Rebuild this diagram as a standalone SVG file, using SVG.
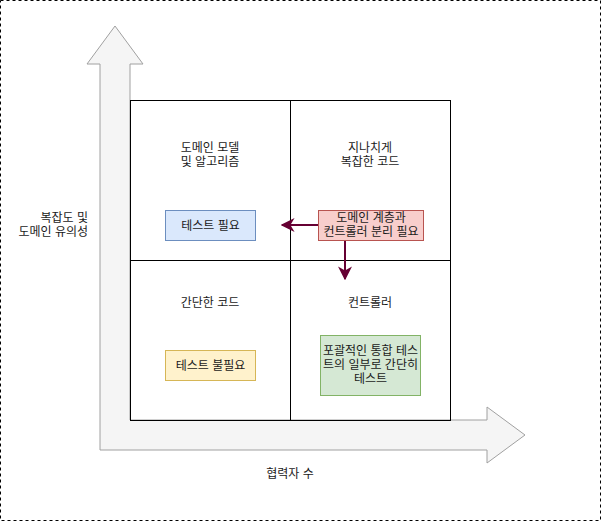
<svg xmlns="http://www.w3.org/2000/svg" width="601" height="521" viewBox="0 0 601 521">
<style>
text{font-family:"Liberation Sans","Noto Sans CJK KR",sans-serif;font-size:12px;fill:#1a1a1a}
.c{text-anchor:middle}
.r{text-anchor:end}
.grid{fill:none;stroke:#000;stroke-width:1}
.con{stroke:#660033;stroke-width:2;fill:none}
</style>
<defs>
<marker id="ah" viewBox="0 0 10 10" refX="9" refY="5" markerWidth="7" markerHeight="7" markerUnits="strokeWidth" orient="auto">
<path d="M0,0 L10,5 L0,10 L3,5 Z" fill="#660033"/>
</marker>
</defs>
<rect x="0.5" y="0.5" width="600" height="520" fill="#fff" stroke="#000" stroke-dasharray="3 3"/>
<g id="axes">
<path d="M100,450 L100,64 L87,64 L115,26 L143,64 L130,64 L130,420 L487,420 L487,407 L525,435 L487,463 L487,450 Z" fill="#f5f5f5" stroke="#a0a0a0" stroke-width="1"/>
</g>
<g id="grid">
<rect class="grid" x="130.5" y="100.5" width="320" height="320"/>
<line class="grid" x1="290.5" y1="100.5" x2="290.5" y2="420.5"/>
<line class="grid" x1="130.5" y1="260.5" x2="450.5" y2="260.5"/>
</g>
<g id="label-y"><text class="r" x="88" y="222">복잡도 및</text><text class="r" x="88" y="236">도메인 유의성</text></g>
<g id="label-x"><text class="c" x="290" y="478">협력자 수</text></g>
<g id="q1"><text class="c" x="210" y="152">도메인 모델</text><text class="c" x="210" y="166">및 알고리즘</text></g>
<g id="q2"><text class="c" x="370" y="152">지나치게</text><text class="c" x="370" y="166">복잡한 코드</text></g>
<g id="q3"><text class="c" x="210" y="307">간단한 코드</text></g>
<g id="q4"><text class="c" x="370" y="307">컨트롤러</text></g>
<g id="connectors">
<line class="con" x1="318" y1="225" x2="282" y2="225" marker-end="url(#ah)"/>
<line class="con" x1="345" y1="240" x2="345" y2="279" marker-end="url(#ah)"/>
</g>
<g id="n-test-needed"><rect x="165.5" y="210.5" width="90" height="30" fill="#dae8fc" stroke="#6c8ebf"/><text class="c" x="210.5" y="230">테스트 필요</text></g>
<g id="n-split"><rect x="318.5" y="210.5" width="105" height="30" fill="#f8cecc" stroke="#b85450"/><text class="c" x="371" y="222">도메인 계층과</text><text class="c" x="371" y="236">컨트롤러 분리 필요</text></g>
<g id="n-no-test"><rect x="165.5" y="350.5" width="90" height="30" fill="#fff2cc" stroke="#d6b656"/><text class="c" x="210.5" y="370">테스트 불필요</text></g>
<g id="n-integration"><rect x="320.5" y="335.5" width="100" height="60" fill="#d5e8d4" stroke="#82b366"/><text class="c" x="370.5" y="355">포괄적인 통합 테스</text><text class="c" x="370.5" y="369">트의 일부로 간단히</text><text class="c" x="370.5" y="383">테스트</text></g>
</svg>
